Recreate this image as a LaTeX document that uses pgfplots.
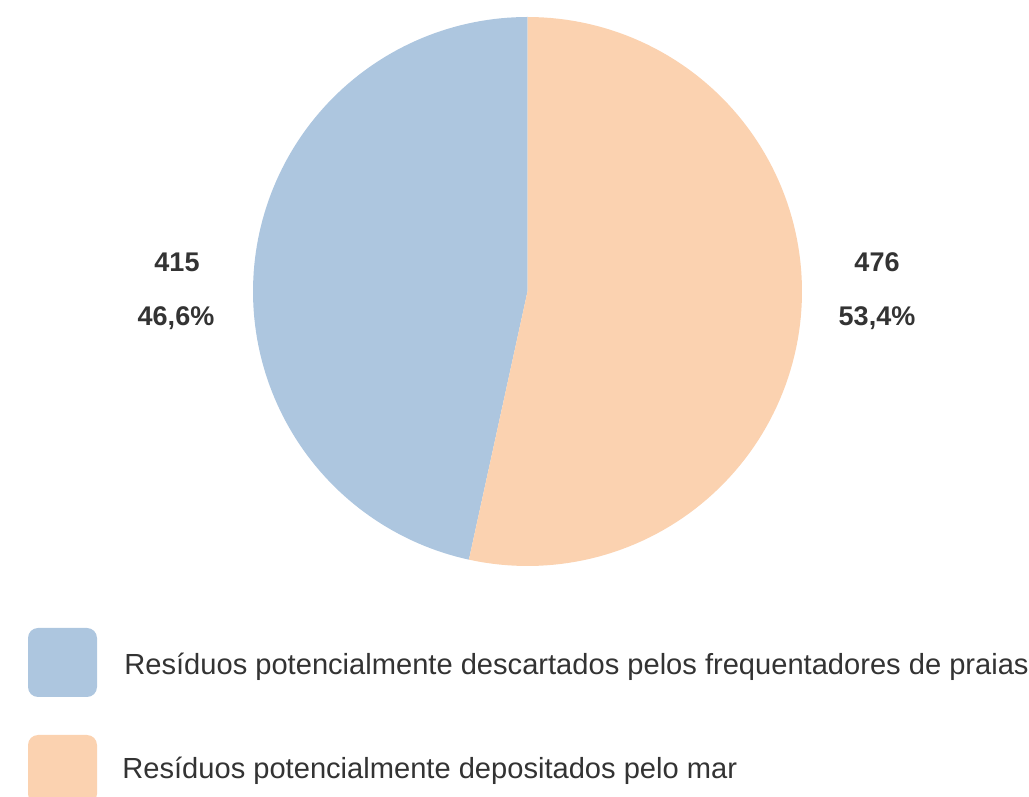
\documentclass[border=0pt]{standalone}
\usepackage{pgfplots}
\pgfplotsset{compat=1.18}
\usepackage{fontspec}
\setmainfont{Liberation Sans}
\definecolor{pieblue}{HTML}{ADC6DF}
\definecolor{pieorange}{HTML}{FBD2B0}
\definecolor{txt}{HTML}{333333}
\newcommand{\va}{415}
\newcommand{\vb}{476}
\begin{document}
\begin{tikzpicture}
\pgfmathsetmacro\splitang{90+360*(\va/(\va+\vb))}
\begin{axis}[
  scale only axis, width=514.5bp, height=398.5bp,
  xmin=0, xmax=1029, ymin=0, ymax=797,
  hide axis, clip=true,
]
% pie slices (center 527.5,505.5 ; radius 274.5)
\addplot[fill=pieblue, draw=none, domain=90:\splitang, samples=120, variable=\t]
  ({527.5+274.5*cos(\t)},{505.5+274.5*sin(\t)}) -- (axis cs:527.5,505.5) -- cycle;
\addplot[fill=pieorange, draw=none, domain=\splitang:450, samples=120, variable=\t]
  ({527.5+274.5*cos(\t)},{505.5+274.5*sin(\t)}) -- (axis cs:527.5,505.5) -- cycle;
% legend swatches
\addplot[fill=pieblue, draw=none, rounded corners=5bp] coordinates {(28,100) (97,100) (97,169) (28,169)} -- cycle;
\addplot[fill=pieorange, draw=none, rounded corners=5bp] coordinates {(28,-7) (97,-7) (97,62) (28,62)} -- cycle;
% labels
\node[anchor=base, text=txt, font=\fontsize{13.5bp}{16bp}\selectfont\bfseries] at (axis cs:177,525) {\va};
\node[anchor=base, text=txt, font=\fontsize{13.5bp}{16bp}\selectfont\bfseries] at (axis cs:176,471) {46,6\%};
\node[anchor=base, text=txt, font=\fontsize{13.5bp}{16bp}\selectfont\bfseries] at (axis cs:877,525) {\vb};
\node[anchor=base, text=txt, font=\fontsize{13.5bp}{16bp}\selectfont\bfseries] at (axis cs:877,471) {53,4\%};
\node[anchor=base west, inner sep=0pt, text=txt, font=\fontsize{14.55bp}{17bp}\selectfont] at (axis cs:124,122) {Resíduos potencialmente descartados pelos frequentadores de praias};
\node[anchor=base west, inner sep=0pt, text=txt, font=\fontsize{14.55bp}{17bp}\selectfont] at (axis cs:122,19) {Resíduos potencialmente depositados pelo mar};
\end{axis}
\pgfresetboundingbox
\useasboundingbox (current axis.south west) rectangle (current axis.north east);
\end{tikzpicture}
\end{document}
